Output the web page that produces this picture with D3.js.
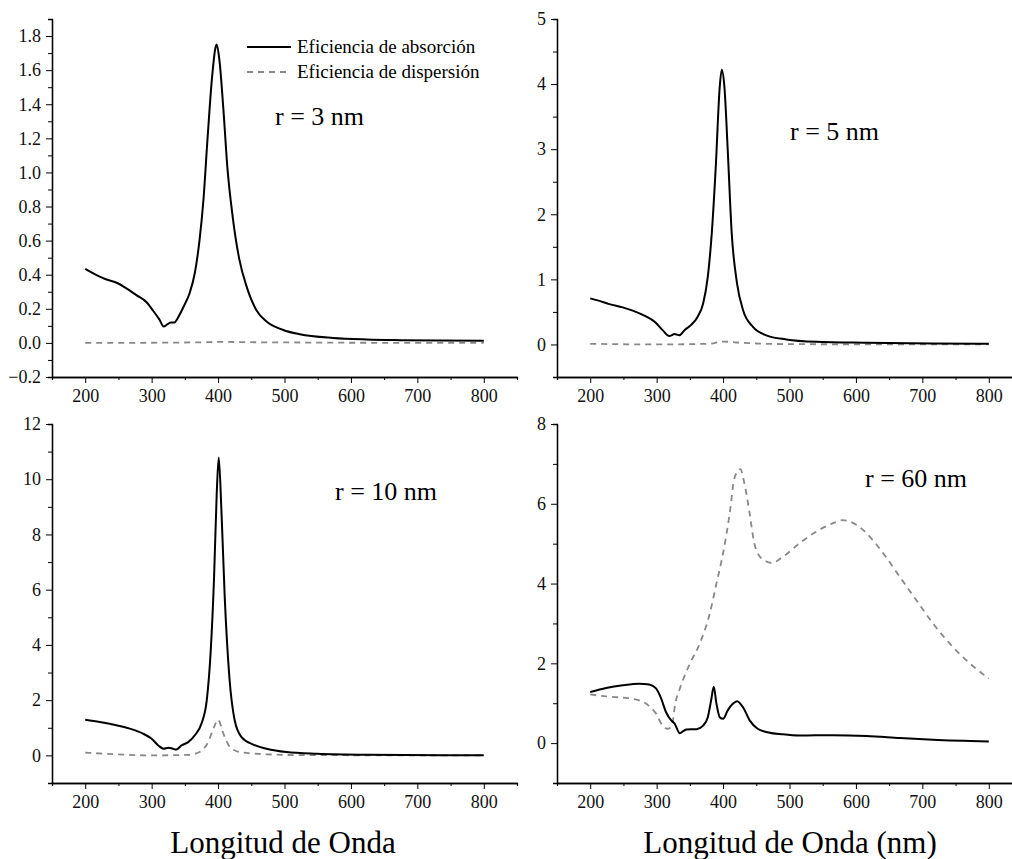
<!DOCTYPE html>
<html>
<head>
<meta charset="utf-8">
<script src="https://cdn.jsdelivr.net/npm/d3@7"></script>
<style>
  body { margin: 0; background: #fff; }
  svg { font-family: "Liberation Serif", "Times New Roman", serif; }
</style>
</head>
<body>
<div id="chart"></div>
<script>
// wavelength (nm), efficiency
const abs3 = [[200,0.434],[221,0.39],[230,0.375],[249,0.35],[262,0.32],[277,0.28],[292,0.24],[302,0.19],[312,0.135],[318,0.096],[324,0.11],[329,0.12],[334,0.12],[342,0.165],[349,0.22],[357,0.29],[365,0.41],[372,0.60],[378,0.84],[384,1.19],[391,1.56],[396,1.73],[398,1.75],[402,1.66],[408,1.37],[414,1.03],[422,0.74],[432,0.49],[443,0.33],[458,0.19],[473,0.125],[498,0.076],[523,0.051],[573,0.029],[624,0.02],[674,0.016],[800,0.012]];
const sca3 = [[200,0.0],[300,0.001],[380,0.004],[400,0.006],[450,0.004],[500,0.003],[600,0.001],[800,0.0]];

const abs5 = [[200,0.708],[214,0.67],[229,0.62],[249,0.57],[264,0.52],[284,0.43],[297,0.35],[309,0.22],[319,0.13],[327,0.16],[334,0.14],[342,0.22],[352,0.30],[362,0.43],[370,0.63],[377,1.04],[383,1.71],[389,2.73],[395,3.96],[398,4.22],[402,3.96],[407,2.99],[413,1.71],[421,0.94],[430,0.53],[445,0.27],[465,0.14],[495,0.077],[540,0.041],[616,0.026],[716,0.015],[800,0.01]];
const sca5 = [[200,0.01],[300,0.0],[380,0.012],[400,0.045],[420,0.03],[450,0.015],[500,0.005],[600,0.002],[800,0.0]];

const abs10 = [[200,1.29],[222,1.21],[247,1.09],[267,0.97],[287,0.79],[300,0.6],[310,0.36],[318,0.24],[325,0.28],[332,0.24],[337,0.21],[345,0.36],[355,0.48],[365,0.73],[375,1.15],[383,2.0],[389,3.81],[394,6.47],[398,9.5],[401,10.79],[405,8.9],[410,5.75],[417,2.84],[425,1.27],[435,0.67],[453,0.39],[473,0.24],[503,0.12],[549,0.06],[624,0.025],[800,0.005]];
const sca10 = [[200,0.1],[247,0.04],[297,0.0],[357,0.02],[372,0.12],[385,0.48],[394,1.03],[400,1.29],[408,0.79],[418,0.3],[433,0.12],[473,0.04],[523,0.01],[800,0.0]];

const abs60 = [[200,1.28],[224,1.38],[249,1.45],[274,1.49],[289,1.47],[299,1.37],[307,1.11],[314,0.78],[322,0.57],[327,0.49],[335,0.25],[340,0.30],[345,0.34],[360,0.35],[370,0.44],[377,0.65],[382,1.07],[386,1.41],[390,0.99],[395,0.65],[400,0.61],[407,0.82],[415,0.99],[421,1.05],[430,0.9],[440,0.57],[452,0.36],[465,0.28],[490,0.22],[515,0.19],[565,0.2],[616,0.18],[666,0.13],[716,0.084],[800,0.04]];
const sca60 = [[200,1.22],[224,1.17],[249,1.14],[264,1.11],[284,0.99],[299,0.74],[309,0.44],[317,0.36],[323,0.44],[328,0.99],[335,1.37],[350,1.99],[365,2.5],[380,3.25],[390,4.0],[400,4.76],[410,5.76],[417,6.64],[426,6.87],[432,6.52],[440,5.76],[447,5.01],[458,4.63],[473,4.52],[490,4.67],[515,5.01],[540,5.3],[565,5.51],[580,5.59],[601,5.47],[616,5.26],[641,4.76],[666,4.17],[691,3.58],[716,3.0],[741,2.5],[766,2.08],[800,1.62]];

const xMajor = [200, 300, 400, 500, 600, 700, 800];
const xMinor = [150, 250, 350, 450, 550, 650, 750, 850];

const labels = ["r = 3 nm", "r = 5 nm", "r = 10 nm", "r = 60 nm"];
const legendNames = ["Eficiencia de absorción", "Eficiencia de dispersión"];
const xTitles = ["Longitud de Onda", "Longitud de Onda (nm)"];

const width = 1012, height = 859;

const svg = d3.select("#chart").append("svg")
  .attr("width", width)
  .attr("height", height);

const panels = [
  { abs: abs3, sca: sca3, label: labels[0], x0: 52, x1: 517, y0: 377, y1: 19,
    yDomain: [-0.2, 1.9], yMajor: d3.range(-0.2, 1.81, 0.2), yMinor: d3.range(-0.1, 1.8, 0.2),
    fmt: d3.format(".1f"), lx: 275, ly: 125 },
  { abs: abs5, sca: sca5, label: labels[1], x0: 557, x1: 1022, y0: 377, y1: 19,
    yDomain: [-0.5, 5], yMajor: [0, 1, 2, 3, 4, 5], yMinor: [0.5, 1.5, 2.5, 3.5, 4.5],
    fmt: d3.format("d"), lx: 790, ly: 140 },
  { abs: abs10, sca: sca10, label: labels[2], x0: 52, x1: 517, y0: 783, y1: 424,
    yDomain: [-1, 12], yMajor: [0, 2, 4, 6, 8, 10, 12], yMinor: [-1, 1, 3, 5, 7, 9, 11],
    fmt: d3.format("d"), lx: 335, ly: 500 },
  { abs: abs60, sca: sca60, label: labels[3], x0: 557, x1: 1022, y0: 783, y1: 424,
    yDomain: [-1, 8], yMajor: [0, 2, 4, 6, 8], yMinor: [1, 3, 5, 7],
    fmt: d3.format("d"), lx: 865, ly: 487 }
];

panels.forEach(p => {
  const x = d3.scaleLinear().domain([150, 850]).range([p.x0, p.x1]);
  const y = d3.scaleLinear().domain(p.yDomain).range([p.y0, p.y1]);
  const g = svg.append("g");

  // minor ticks
  g.append("g")
    .attr("transform", `translate(0,${p.y0})`)
    .call(d3.axisBottom(x).tickValues(xMinor).tickSize(3).tickFormat(""));
  g.append("g")
    .attr("transform", `translate(${p.x0},0)`)
    .call(d3.axisLeft(y).tickValues(p.yMinor).tickSize(4).tickFormat(""));

  const xAxis = g.append("g")
    .attr("transform", `translate(0,${p.y0})`)
    .call(d3.axisBottom(x).tickValues(xMajor).tickSize(6).tickPadding(6).tickSizeOuter(0));
  const yAxis = g.append("g")
    .attr("transform", `translate(${p.x0},0)`)
    .call(d3.axisLeft(y).tickValues(p.yMajor).tickFormat(p.fmt).tickSize(6).tickPadding(5).tickSizeOuter(0));

  g.selectAll(".domain").attr("stroke", "#000").attr("stroke-width", 1.3);
  g.selectAll(".tick line").attr("stroke", "#000").attr("stroke-width", 1);
  [xAxis, yAxis].forEach(a => a.selectAll("text")
    .style("font-family", "Liberation Serif")
    .style("font-size", "18px")
    .attr("fill", "#111"));

  const line = d3.line()
    .x(d => x(d[0]))
    .y(d => y(d[1]))
    .curve(d3.curveMonotoneX);

  g.append("path")
    .datum(p.sca)
    .attr("fill", "none")
    .attr("stroke", "#888")
    .attr("stroke-width", 1.8)
    .attr("stroke-dasharray", "6,5")
    .attr("d", line);

  g.append("path")
    .datum(p.abs)
    .attr("fill", "none")
    .attr("stroke", "#000")
    .attr("stroke-width", 2)
    .attr("d", line);

  g.append("text")
    .attr("x", p.lx)
    .attr("y", p.ly)
    .style("font-size", "26px")
    .text(p.label);
});

// legend
const legend = svg.append("g");
legendNames.forEach((name, i) => {
  const ly = 47 + i * 25;
  legend.append("line")
    .attr("x1", 247).attr("x2", 291)
    .attr("y1", ly).attr("y2", ly)
    .attr("stroke", i === 0 ? "#000" : "#888")
    .attr("stroke-width", i === 0 ? 2 : 1.8)
    .attr("stroke-dasharray", i === 0 ? null : "6,5");
  legend.append("text")
    .attr("x", 297)
    .attr("y", ly + 6)
    .style("font-size", "19px")
    .text(name);
});

// x titles
svg.append("text")
  .attr("x", 283).attr("y", 853)
  .attr("text-anchor", "middle")
  .style("font-size", "31px")
  .text(xTitles[0]);
svg.append("text")
  .attr("x", 790).attr("y", 853)
  .attr("text-anchor", "middle")
  .style("font-size", "31px")
  .text(xTitles[1]);
</script>
</body>
</html>
